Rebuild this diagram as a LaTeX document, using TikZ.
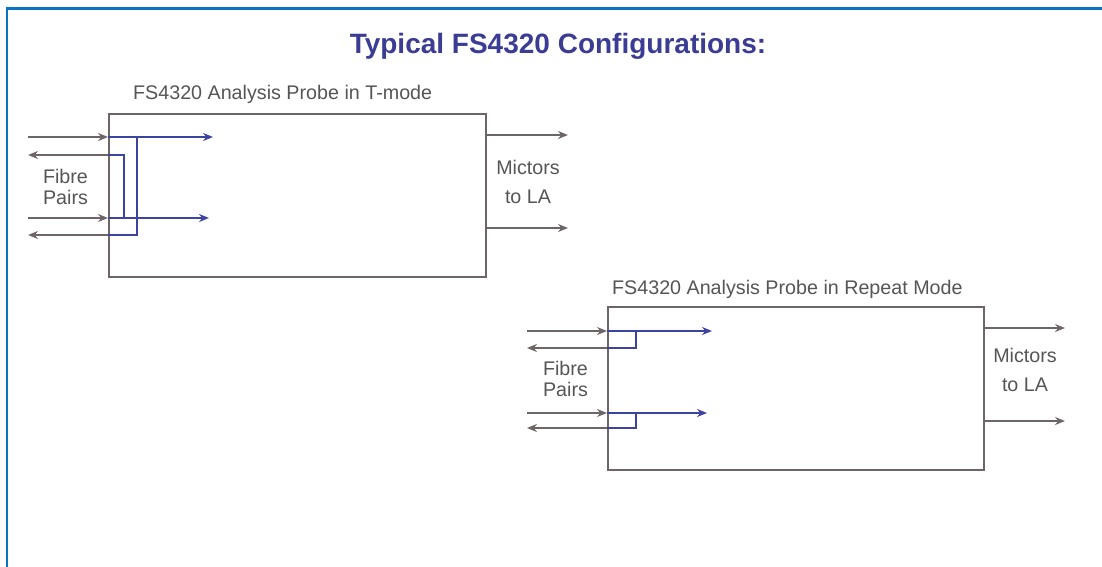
\documentclass[tikz,border=0pt]{standalone}
\usepackage{fontspec}
\setmainfont{Liberation Sans}
\usetikzlibrary{arrows.meta,positioning,calc}
\definecolor{edge}{HTML}{0B74C0}
\definecolor{wire}{HTML}{6E6666}
\definecolor{fibre}{HTML}{3C43A0}
\definecolor{heading}{HTML}{3B3D95}
\definecolor{ink}{HTML}{555555}

\begin{document}
\begin{tikzpicture}[x=1pt,y=-1pt,
  probe/.style={draw=wire,line width=2.2pt,inner sep=0pt,anchor=north west,minimum height=163pt},
  boxcap/.style={font=\fontsize{19.7}{23}\selectfont,text=ink,inner sep=0pt,anchor=base west},
  pairs/.style={font=\fontsize{19.7}{21}\selectfont,text=ink,inner sep=0pt,align=center},
  mic/.style={font=\fontsize{19.7}{29}\selectfont,text=ink,inner sep=0pt,align=center},
  arr/.style={-{Stealth[length=10pt,width=8pt]},color=wire,line width=2.2pt},
  barr/.style={arr,color=fibre},
  bwire/.style={color=fibre,line width=2.2pt}]
  \useasboundingbox (0,0) rectangle (1102,567);
  \draw[edge,line width=2.6pt] (7,567) -- (7,8.5) -- (1102,8.5);

  \node[font=\fontsize{28}{32}\selectfont\bfseries,text=heading,anchor=base,inner sep=0pt] (title) at (558,54) {Typical FS4320 Configurations:};

  % T-mode probe
  \node[probe,minimum width=377pt] (tmode) at (108,113) {};
  \node[boxcap] (tcap) at (133,100) {FS4320 Analysis Probe in T-mode};
  \node[pairs] (tpairs) at (65.5,187) {Fibre\\Pairs};
  \node[mic] (tmic) at (528,182) {Mictors\\to LA};
  \coordinate (tin1) at (28,137);
  \coordinate (tout1) at (28,155);
  \coordinate (tin2) at (28,218);
  \coordinate (tout2) at (28,235);
  \coordinate (tend1) at (213,137);
  \coordinate (tend2) at (209,218);
  \coordinate (ttap1) at (137,137);
  \coordinate (ttap2) at (124,218);
  \coordinate (tla1) at (568,135);
  \coordinate (tla2) at (568,228);
  \draw[arr] (tin1) -- (tmode.west |- tin1);
  \draw[arr] (tin2) -- (tmode.west |- tin2);
  \draw[arr] (tmode.west |- tout1) -- (tout1);
  \draw[arr] (tmode.west |- tout2) -- (tout2);
  \draw[barr] (tmode.west |- tin1) -- (tend1);
  \draw[barr] (tmode.west |- tin2) -- (tend2);
  \draw[bwire] (ttap1) -- (ttap1 |- tout2) -- (tmode.west |- tout2);
  \draw[bwire] (ttap2) -- (ttap2 |- tout1) -- (tmode.west |- tout1);
  \draw[arr] (tmode.east |- tla1) -- (tla1);
  \draw[arr] (tmode.east |- tla2) -- (tla2);

  % Repeat-mode probe
  \node[probe,minimum width=376pt] (rmode) at (607,306) {};
  \node[boxcap] (rcap) at (612,294) {FS4320 Analysis Probe in Repeat Mode};
  \node[pairs] (rpairs) at (565.5,379) {Fibre\\Pairs};
  \node[mic] (rmic) at (1025,370) {Mictors\\to LA};
  \coordinate (rin1) at (527,331);
  \coordinate (rout1) at (527,348);
  \coordinate (rin2) at (527,413);
  \coordinate (rout2) at (527,428);
  \coordinate (rend1) at (712,331);
  \coordinate (rend2) at (707,413);
  \coordinate (rtap1) at (636,331);
  \coordinate (rtap2) at (636,413);
  \coordinate (rla1) at (1065,328);
  \coordinate (rla2) at (1065,421);
  \draw[arr] (rin1) -- (rmode.west |- rin1);
  \draw[arr] (rin2) -- (rmode.west |- rin2);
  \draw[arr] (rmode.west |- rout1) -- (rout1);
  \draw[arr] (rmode.west |- rout2) -- (rout2);
  \draw[barr] (rmode.west |- rin1) -- (rend1);
  \draw[barr] (rmode.west |- rin2) -- (rend2);
  \draw[bwire] (rtap1) -- (rtap1 |- rout1) -- (rmode.west |- rout1);
  \draw[bwire] (rtap2) -- (rtap2 |- rout2) -- (rmode.west |- rout2);
  \draw[arr] (rmode.east |- rla1) -- (rla1);
  \draw[arr] (rmode.east |- rla2) -- (rla2);
\end{tikzpicture}
\end{document}
